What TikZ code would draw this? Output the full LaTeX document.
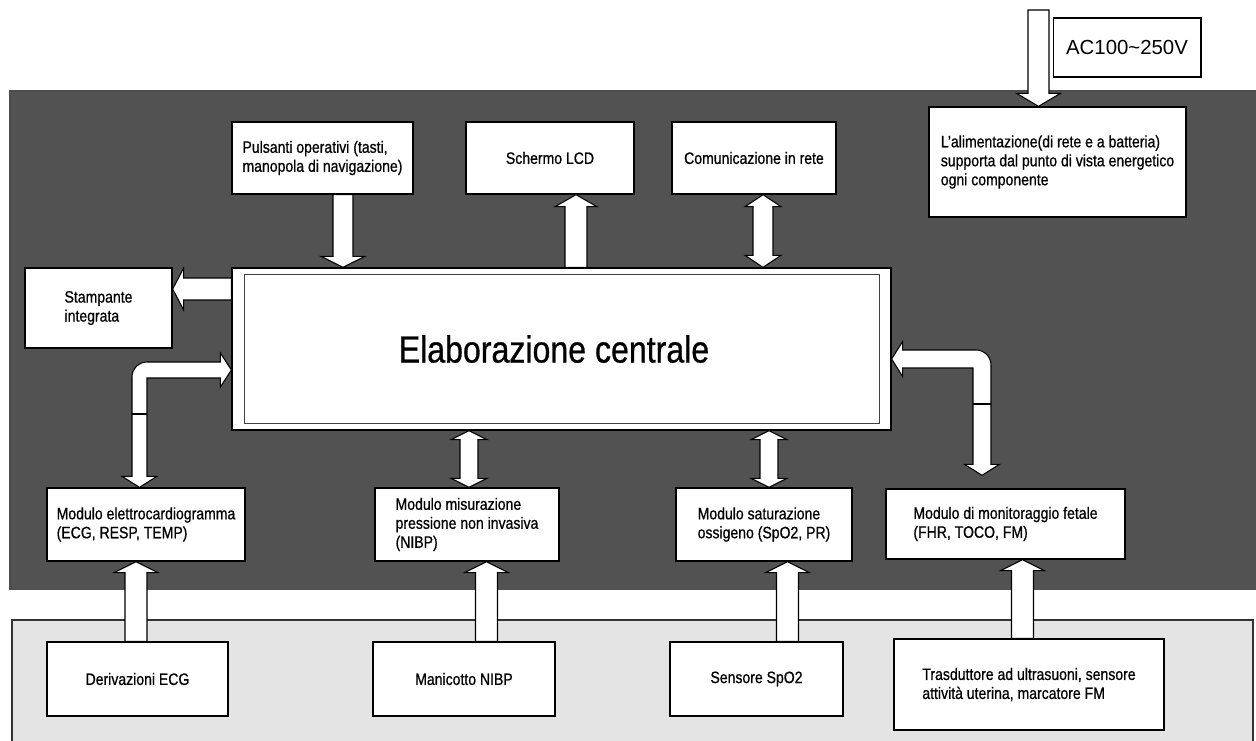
\documentclass[tikz,border=0pt]{standalone}
\usepackage{fontspec}
\setmainfont{Liberation Sans}[FakeStretch=0.85,FakeBold=0.7]
\newfontfamily\acfont{Liberation Sans}
\usetikzlibrary{calc}

\definecolor{panelDark}{HTML}{525252}
\definecolor{panelLight}{HTML}{E4E4E4}

% block arrow, one head: start, tip, half shaft, half head, head length (signed)
\newcommand{\vblock}[5]{%
   \draw [blockarrow]
      ($(#1)+(-#3,0)$) -- ($(#1)+(#3,0)$) -- ($(#2)+(#3,#5)$) -- ($(#2)+(#4,#5)$)
      -- (#2) -- ($(#2)+(-#4,#5)$) -- ($(#2)+(-#3,#5)$) -- cycle;}
% block arrow, two heads: upper tip, lower tip, half shaft, half head, head length
\newcommand{\dblock}[5]{%
   \draw [blockarrow]
      (#1) -- ($(#1)+(#4,#5)$) -- ($(#1)+(#3,#5)$) -- ($(#2)+(#3,-#5)$) -- ($(#2)+(#4,-#5)$)
      -- (#2) -- ($(#2)+(-#4,-#5)$) -- ($(#2)+(-#3,-#5)$) -- ($(#1)+(-#3,#5)$)
      -- ($(#1)+(-#4,#5)$) -- cycle;}

\begin{document}
\begin{tikzpicture}[x=0.02cm,y=-0.02cm,
      modbox/.style={draw=black,line width=0.8pt,fill=white,inner sep=0pt,
         align=left,font=\fontsize{9.4}{10.8}\selectfont},
      blockarrow/.style={draw=black,line width=0.6pt,fill=white}]
            \useasboundingbox (0,0) rectangle (1256,740);

            % panels
            \fill [panelDark] (10,91) rectangle (1256,590);
            \draw [black!70,thick] (10,590) -- (10,91) -- (1256,91);
            \fill [panelLight] (12,620) rectangle (1253,750);
            \draw [black!80,thick] (12,750) -- (12,620) -- (1253,620) -- (1253,750);

            % top row
            \node [modbox,minimum width=3.62cm,minimum height=1.44cm] (puls) at (322.5,158)
               {Pulsanti operativi (tasti,\\manopola di navigazione)};
            \node [modbox,minimum width=3.36cm,minimum height=1.44cm] (lcd) at (550,158)
               {Schermo LCD};
            \node [modbox,minimum width=3.28cm,minimum height=1.44cm] (comm) at (754,158)
               {Comunicazione in rete};
            \node [modbox,minimum width=5.14cm,minimum height=2.2cm] (power) at (1057.5,162)
               {L’alimentazione(di rete e a batteria)\\supporta dal punto di vista energetico\\ogni componente};
            \node [modbox,line width=0.6pt,minimum width=2.96cm,minimum height=1.18cm,
               font=\acfont\fontsize{11.6}{13}\selectfont] (ac) at (1127,47.5)
               {AC100\textasciitilde250V};

            % centre
            \node [modbox,minimum width=13.18cm,minimum height=3.24cm,
               font=\fontsize{21.5}{24}\selectfont] (cpu) at (561.5,349)
               {Elaborazione centrale\hspace*{0.3cm}};
            \draw [black!75,line width=0.8pt]
               ($(cpu.north west)+(13,7)$) rectangle ($(cpu.south east)+(-12,-7)$);
            \node [modbox,minimum width=2.94cm,minimum height=1.6cm] (stamp) at (98.5,308)
               {Stampante\\integrata};

            % modules
            \node [modbox,minimum width=3.96cm,minimum height=1.46cm] (ecg) at (146,524.5)
               {Modulo elettrocardiogramma\\(ECG, RESP, TEMP)};
            \node [modbox,minimum width=3.68cm,minimum height=1.46cm] (nibp) at (467,524.5)
               {Modulo misurazione\\pressione non invasiva\\(NIBP)};
            \node [modbox,minimum width=3.52cm,minimum height=1.46cm] (spo) at (764,524.5)
               {Modulo saturazione\\ossigeno (SpO2, PR)};
            \node [modbox,minimum width=4.78cm,minimum height=1.4cm] (fetal) at (1005.5,524)
               {Modulo di monitoraggio fetale\\(FHR, TOCO, FM)};

            % sensors
            \node [modbox,minimum width=3.62cm,minimum height=1.48cm] (deriv) at (137.5,679)
               {Derivazioni ECG};
            \node [modbox,minimum width=3.64cm,minimum height=1.48cm] (cuff) at (464,679)
               {Manicotto NIBP};
            \node [modbox,minimum width=3.46cm,minimum height=1.48cm] (sens) at (756.5,679)
               {Sensore SpO2};
            \node [modbox,minimum width=5.4cm,minimum height=1.82cm] (trans) at (1029,684.5)
               {Trasduttore ad ultrasuoni, sensore\\attività uterina, marcatore FM};

            % arrows
            \coordinate (acin) at (1038.5,10);
            \vblock{acin}{1038.5,0 |- power.north}{10.5}{22}{-13}
            \vblock{343,0 |- puls.south}{343,0 |- cpu.north}{10}{22}{-11}
            \vblock{576,0 |- cpu.north}{576,0 |- lcd.south}{11}{21}{12}
            \dblock{763,0 |- comm.south}{763,0 |- cpu.north}{10}{18}{12}
            \dblock{469,0 |- cpu.south}{469,0 |- nibp.north}{9}{18}{9}
            \dblock{769,0 |- cpu.south}{769,0 |- spo.north}{9}{18}{9}

            \vblock{136,0 |- deriv.north}{136,0 |- ecg.south}{11}{22}{11}
            \vblock{486.5,0 |- cuff.north}{486.5,0 |- nibp.south}{11}{22}{11}
            \vblock{787.5,0 |- sens.north}{787.5,0 |- spo.south}{11}{22}{11}
            \vblock{1022.5,0 |- trans.north}{1022.5,0 |- fetal.south}{11}{22}{11}

            \draw [blockarrow]
               ($(cpu.west |- 0,289)+(0,-11)$) -- ($(cpu.west |- 0,289)+(0,11)$)
               -- ($(stamp.east |- 0,289)+(11,11)$) -- ($(stamp.east |- 0,289)+(11,21)$)
               -- (stamp.east |- 0,289) -- ($(stamp.east |- 0,289)+(11,-21)$)
               -- ($(stamp.east |- 0,289)+(11,-11)$) -- cycle;

            % bent arrows
            \coordinate (ecgA) at (cpu.west |- 0,370);
            \coordinate (ecgB) at (139.5,0 |- ecg.north);
            \draw [blockarrow]
               (ecgA) -- ($(ecgA)+(-11,-17)$) -- ($(ecgA)+(-11,-8)$)
               [rounded corners=0.3cm] -- ($(ecgB |- ecgA)+(-7.5,-8)$) [sharp corners]
               -- ($(ecgB)+(-7.5,-11)$) -- ($(ecgB)+(-17.5,-11)$) -- (ecgB)
               -- ($(ecgB)+(17.5,-11)$) -- ($(ecgB)+(7.5,-11)$) -- ($(ecgB |- ecgA)+(7.5,8)$)
               -- ($(ecgA)+(-11,8)$) -- ($(ecgA)+(-11,17)$) -- cycle;
            \draw [line width=0.6pt] ($(ecgB |- 0,414)+(-7.5,0)$) -- ++(15,0);

            \coordinate (fetA) at (cpu.east |- 0,359);
            \coordinate (fetB) at ($(982,0 |- fetal.north)+(0,-13)$);
            \draw [blockarrow]
               (fetA) -- ($(fetA)+(11,-17.5)$) -- ($(fetA)+(11,-9)$)
               [rounded corners=0.3cm] -- ($(fetB |- fetA)+(9,-9)$) [sharp corners]
               -- ($(fetB)+(9,-11)$) -- ($(fetB)+(17.5,-11)$) -- (fetB)
               -- ($(fetB)+(-17.5,-11)$) -- ($(fetB)+(-9,-11)$) -- ($(fetB |- fetA)+(-9,9)$)
               -- ($(fetA)+(11,9)$) -- ($(fetA)+(11,17.5)$) -- cycle;
            \draw [line width=0.6pt] ($(fetB |- 0,404)+(-9,0)$) -- ++(18,0);
         \end{tikzpicture}
\end{document}
